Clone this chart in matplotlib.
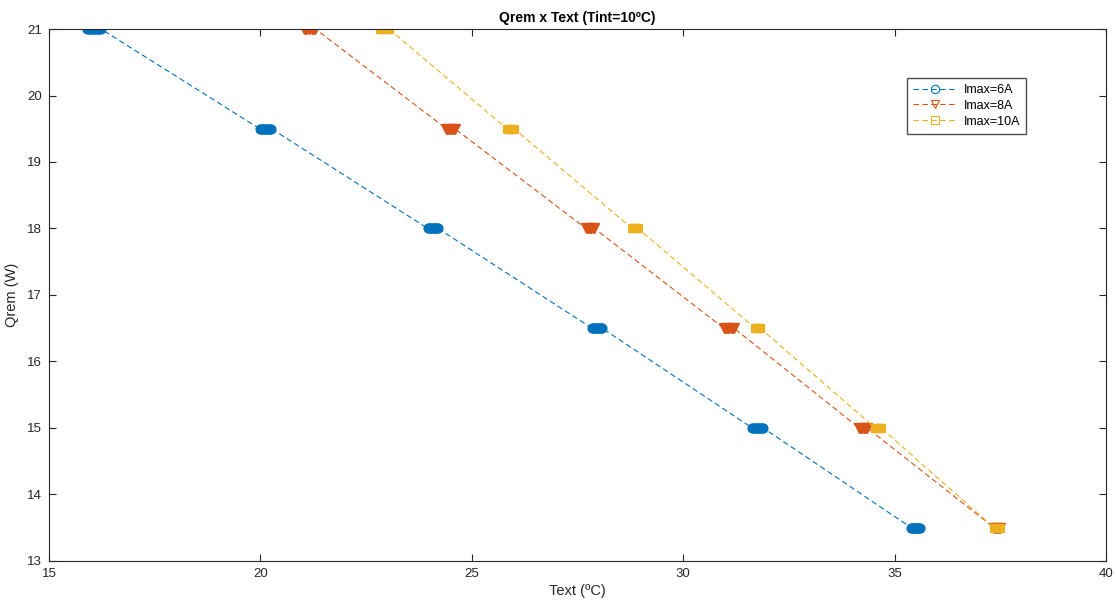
import matplotlib
matplotlib.use('Agg')
from matplotlib import pyplot as plt

plt.rcParams['font.family'] = ['Liberation Sans', 'DejaVu Sans']

# Qrem levels (W) and Text values (C) for each current limit
q_levels = [21.0, 19.5, 18.0, 16.5, 15.0, 13.5]

text_6A = [[15.90, 15.94, 15.98, 16.01, 16.05, 16.08, 16.12, 16.16, 16.19, 16.23],
           [19.98, 20.01, 20.04, 20.07, 20.10, 20.13, 20.16, 20.19, 20.22, 20.26],
           [23.96, 23.99, 24.01, 24.04, 24.07, 24.09, 24.12, 24.15, 24.17, 24.20],
           [27.84, 27.87, 27.89, 27.92, 27.95, 27.97, 28.00, 28.03, 28.05, 28.08],
           [31.63, 31.66, 31.69, 31.72, 31.75, 31.77, 31.80, 31.83, 31.86, 31.89],
           [35.39, 35.41, 35.44, 35.46, 35.48, 35.51, 35.53, 35.55, 35.58, 35.60]]

text_8A = [[21.02, 21.05, 21.08, 21.11, 21.14, 21.18, 21.21, 21.24, 21.27, 21.30],
           [24.40, 24.42, 24.44, 24.47, 24.49, 24.51, 24.53, 24.56, 24.58, 24.60],
           [27.70, 27.72, 27.74, 27.77, 27.79, 27.81, 27.83, 27.86, 27.88, 27.90],
           [30.96, 30.99, 31.01, 31.04, 31.07, 31.09, 31.12, 31.15, 31.17, 31.20],
           [34.16, 34.18, 34.20, 34.22, 34.24, 34.27, 34.29, 34.31, 34.33, 34.35],
           [37.35, 37.37, 37.38, 37.40, 37.42, 37.43, 37.45, 37.47, 37.48, 37.50]]

text_10A = [[22.83, 22.85, 22.88, 22.90, 22.92, 22.95, 22.97, 22.99, 23.02, 23.04],
            [25.83, 25.85, 25.87, 25.89, 25.91, 25.92, 25.94, 25.96, 25.98, 26.00],
            [28.79, 28.81, 28.82, 28.84, 28.85, 28.87, 28.88, 28.90, 28.91, 28.93],
            [31.70, 31.71, 31.73, 31.74, 31.75, 31.77, 31.78, 31.79, 31.81, 31.82],
            [34.54, 34.56, 34.57, 34.59, 34.60, 34.62, 34.63, 34.65, 34.66, 34.68],
            [37.35, 37.37, 37.38, 37.40, 37.42, 37.43, 37.45, 37.47, 37.48, 37.50]]

colors = ['#0072BD', '#D95319', '#EDB120']

def flatten(vals):
    xs, ys = [], []
    for q, row in zip(q_levels, vals):
        for t in row:
            xs.append(t)
            ys.append(q)
    return xs, ys

fig, ax = plt.subplots(figsize=(11.16, 6.05), dpi=100)
fig.subplots_adjust(left=0.044, right=0.991, bottom=0.073, top=0.952)

# overlapping hollow markers merge into solid blobs, so draw them filled
style = dict(ls='--', lw=0.8, mew=0.8, dashes=(5, 3))
x, y = flatten(text_6A)
ax.plot(x, y, marker='o', ms=6.5, color=colors[0], mfc=colors[0], label='Imax=6A', **style)
x, y = flatten(text_8A)
ax.plot(x, y, marker='v', ms=7.5, color=colors[1], mfc=colors[1], label='Imax=8A', **style)
x, y = flatten(text_10A)
ax.plot(x, y, marker='s', ms=6, color=colors[2], mfc=colors[2], label='Imax=10A', **style)

ax.set_xlim(15, 40)
ax.set_ylim(13, 21)
ax.set_xticks(range(15, 41, 5))
ax.set_yticks(range(13, 22))
ax.tick_params(direction='in', top=True, right=True, labelsize=9.5, length=5,
               pad=5, color='#262626', labelcolor='#262626')
for s in ax.spines.values():
    s.set_linewidth(0.8)
    s.set_color('#262626')
ax.set_xlabel('Text (ºC)', fontsize=10.5, color='#262626', labelpad=3)
ax.set_ylabel('Qrem (W)', fontsize=10.5, color='#262626', labelpad=6)
ax.set_title('Qrem x Text (Tint=10ºC)', fontsize=10, fontweight='bold', pad=5)
leg = ax.legend(loc='upper left', bbox_to_anchor=(0.806, 0.92), fontsize=9, frameon=True,
                fancybox=False, edgecolor='#262626', handlelength=3.5, borderpad=0.5,
                labelspacing=0.3, handletextpad=0.5)
for h in leg.legend_handles:
    h.set_markerfacecolor('none')
    h.set_markeredgewidth(0.8)
    h.set_markersize(6)

fig.savefig('out.png')
